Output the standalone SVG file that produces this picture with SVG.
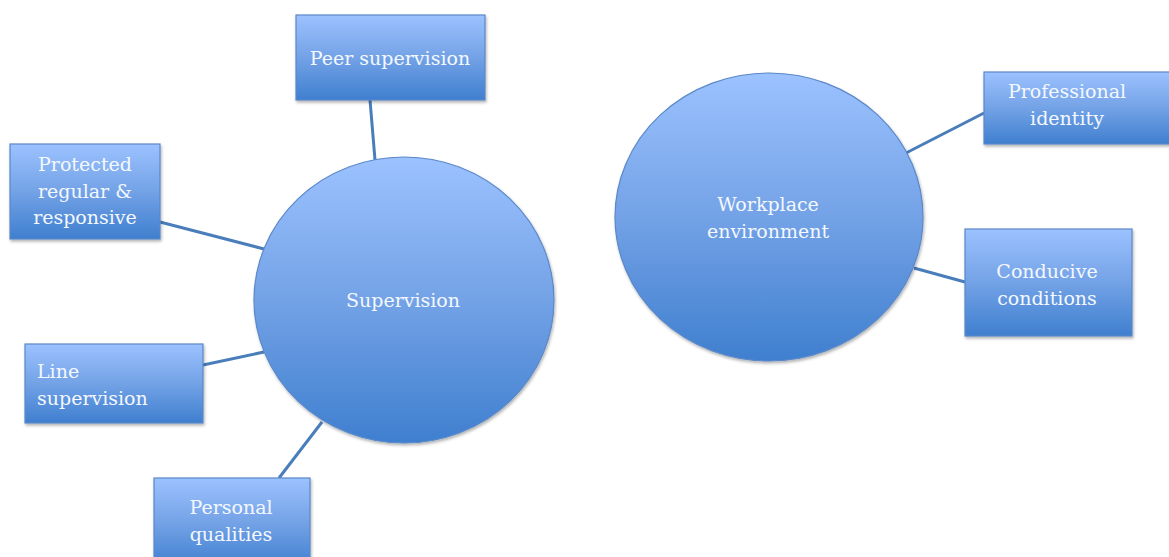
<svg xmlns="http://www.w3.org/2000/svg" width="1169" height="557" viewBox="0 0 1169 557">
<defs>
<linearGradient id="g" x1="0" y1="0" x2="0" y2="1">
<stop offset="0" stop-color="#9cc2ff"/>
<stop offset="0.5" stop-color="#73a2e6"/>
<stop offset="1" stop-color="#3f7fcf"/>
</linearGradient>
<filter id="sh" x="-10%" y="-10%" width="130%" height="130%">
<feDropShadow dx="1" dy="2" stdDeviation="1.5" flood-color="#000" flood-opacity="0.3"/>
</filter>
</defs>
<style>
.n{fill:url(#g);stroke:#5a88c8;stroke-width:1.2;filter:url(#sh)}
.t{font-family:"DejaVu Serif","Liberation Serif",serif;font-size:19px;fill:#f4f8ff;text-anchor:middle}
.l{text-anchor:start}
.c line{stroke:#4a7ebb;stroke-width:3}
</style>
<rect width="1169" height="557" fill="#fff"/>
<g class="c">
<line x1="370" y1="100" x2="375" y2="160"/>
<line x1="160" y1="222" x2="264" y2="249"/>
<line x1="203" y1="365" x2="264" y2="352"/>
<line x1="279" y1="478" x2="322" y2="422"/>
<line x1="984" y1="113" x2="906" y2="153"/>
<line x1="965" y1="282" x2="914" y2="268"/>
</g>
<g id="supervision"><ellipse class="n" cx="404" cy="300" rx="150" ry="143"/><text class="t" x="403" y="307">Supervision</text></g>
<g id="workplace"><ellipse class="n" cx="769" cy="217" rx="154" ry="144"/><text class="t" x="768" y="211">Workplace</text><text class="t" x="768" y="238">environment</text></g>
<g id="peer"><rect class="n" x="296" y="15" width="189" height="85"/><text class="t" x="390" y="65">Peer supervision</text></g>
<g id="protected"><rect class="n" x="10" y="144" width="150" height="95"/><text class="t" x="85" y="171">Protected</text><text class="t" x="85" y="198">regular &amp;</text><text class="t" x="85" y="224">responsive</text></g>
<g id="line"><rect class="n" x="25" y="344" width="178" height="79"/><text class="t l" x="37" y="378">Line</text><text class="t l" x="37" y="405">supervision</text></g>
<g id="personal"><rect class="n" x="154" y="478" width="156" height="90"/><text class="t" x="231" y="514">Personal</text><text class="t" x="231" y="541">qualities</text></g>
<g id="professional"><rect class="n" x="984" y="72" width="195" height="72"/><text class="t" x="1067" y="98">Professional</text><text class="t" x="1067" y="125">identity</text></g>
<g id="conducive"><rect class="n" x="965" y="229" width="167" height="107"/><text class="t" x="1047" y="278">Conducive</text><text class="t" x="1047" y="305">conditions</text></g>
</svg>
